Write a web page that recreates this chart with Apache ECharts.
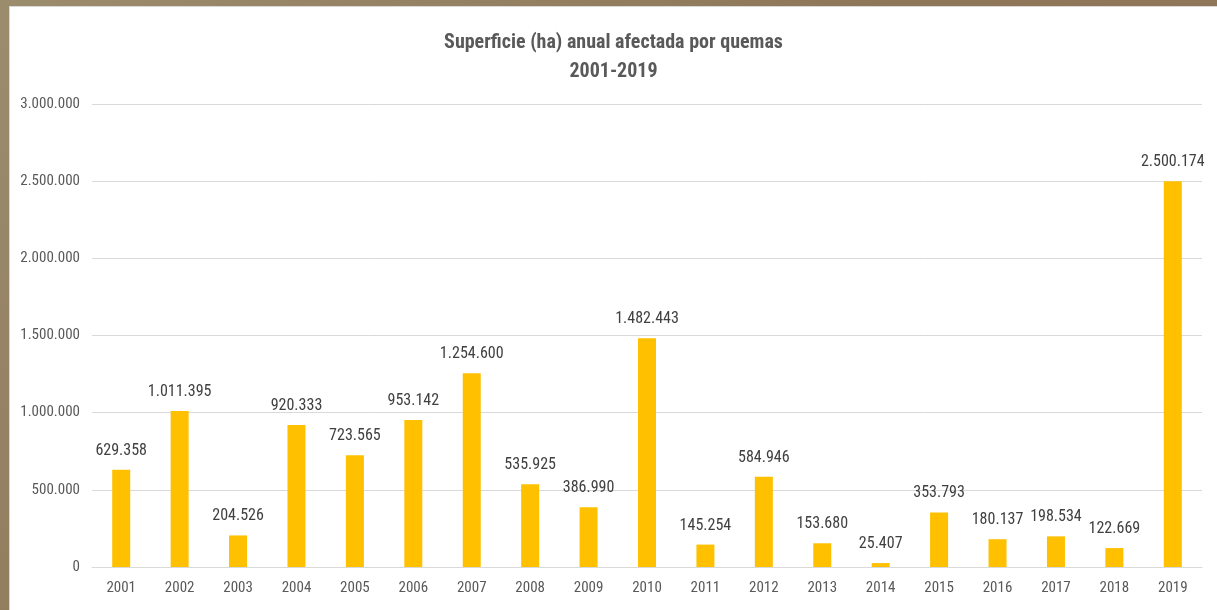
<!DOCTYPE html>
<html><head><meta charset="utf-8">
<script src="https://cdn.jsdelivr.net/npm/echarts@6/dist/echarts.min.js"></script>
<style>
html,body{margin:0;padding:0;width:1217px;height:610px;overflow:hidden;background:linear-gradient(135deg,#9c8c6e 0%,#8e7658 50%,#94795a 100%);}
#c{position:absolute;left:9px;top:6px;width:1208px;height:604px;background:#fff;border-left:1px solid #d8d8d8;border-top:1px solid #d8d8d8;box-sizing:border-box;}
</style></head><body>
<div id="c"></div>
<script>
const categories = ['2001','2002','2003','2004','2005','2006','2007','2008','2009','2010','2011','2012','2013','2014','2015','2016','2017','2018','2019'];
const values = [629358,1011395,204526,920333,723565,953142,1254600,535925,386990,1482443,145254,584946,153680,25407,353793,180137,198534,122669,2500174];
const titleText = 'Superficie (ha) anual afectada por quemas\n2001-2019';

function fmt(v){return String(Math.round(v)).replace(/\B(?=(\d{3})+(?!\d))/g,'.');}
const FONT = "'Liberation Sans Narrow','Roboto Condensed','Open Sans',sans-serif";
const chart = echarts.init(document.getElementById('c'));
chart.setOption({
  animation:false,
  title:{text:titleText,left:'center',top:16,textStyle:{fontFamily:FONT,fontSize:20,fontWeight:'bold',color:'#595959',lineHeight:29}},
  grid:{left:82,right:15,top:97,bottom:43,containLabel:false},
  xAxis:{type:'category',data:categories,
    axisLine:{lineStyle:{color:'#d9d9d9',width:1}},axisTick:{show:false},
    axisLabel:{fontFamily:FONT,fontSize:15,color:'#595959',margin:14}},
  yAxis:{type:'value',min:0,max:3000000,interval:500000,
    axisLine:{show:false},axisTick:{show:false},
    splitLine:{lineStyle:{color:'#d9d9d9',width:1}},
    axisLabel:{fontFamily:FONT,fontSize:15,color:'#595959',margin:12,formatter:fmt}},
  series:[{type:'bar',data:values,barWidth:18,itemStyle:{color:'#ffc000'},
    label:{show:true,position:'top',distance:11,fontFamily:FONT,fontSize:16,color:'#404040',formatter:p=>fmt(p.value)}}]
});
</script>
</body></html>
